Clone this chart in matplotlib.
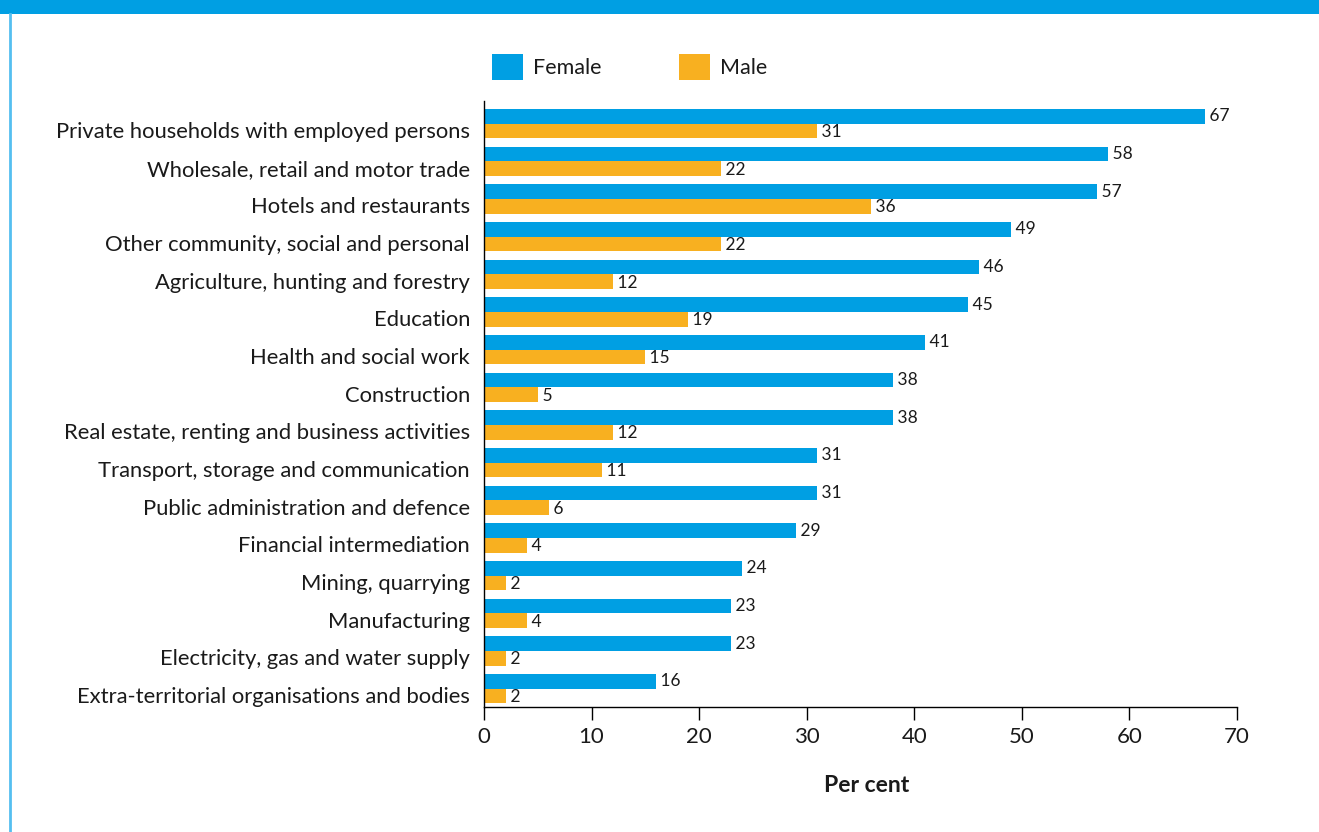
import matplotlib
matplotlib.use("Agg")
import matplotlib.pyplot as plt
from matplotlib.patches import Rectangle
from matplotlib.lines import Line2D
import numpy as np

categories = [
    "Private households with employed persons",
    "Wholesale, retail and motor trade",
    "Hotels and restaurants",
    "Other community, social and personal",
    "Agriculture, hunting and forestry",
    "Education",
    "Health and social work",
    "Construction",
    "Real estate, renting and business activities",
    "Transport, storage and communication",
    "Public administration and defence",
    "Financial intermediation",
    "Mining, quarrying",
    "Manufacturing",
    "Electricity, gas and water supply",
    "Extra-territorial organisations and bodies",
]
female = [67, 58, 57, 49, 46, 45, 41, 38, 38, 31, 31, 29, 24, 23, 23, 16]
male = [31, 22, 36, 22, 12, 19, 15, 5, 12, 11, 6, 4, 2, 4, 2, 2]
x_ticks = [0, 10, 20, 30, 40, 50, 60, 70]

BLUE = "#009fe3"
ORANGE = "#f8b020"
TEXT = "#1a1a1a"
FONT = "Lato"

W, H = 1319, 832
fig = plt.figure(figsize=(W / 100, H / 100), dpi=100)
fig.patch.set_facecolor("white")

# header band and left frame rule
fig.add_artist(Rectangle((0, 1 - 14 / H), 1, 14 / H, transform=fig.transFigure,
                         facecolor=BLUE, edgecolor="none"))
fig.add_artist(Line2D([9.5 / W, 9.5 / W], [0, 1 - 14 / H], transform=fig.transFigure,
                      color="#55bff0", lw=2))

ax = fig.add_axes([484 / W, (H - 707) / H, (1237 - 484) / W, (707 - 101) / H])

y = np.arange(len(categories))
h = 0.39
b_f = ax.barh(y - h / 2, female, height=h, color=BLUE, label="Female")
b_m = ax.barh(y + h / 2, male, height=h, color=ORANGE, label="Male")

for yi, v in zip(y, female):
    ax.text(v, yi - h / 2, f" {v}", va="center", ha="left", fontsize=12.5,
            family=FONT, color=TEXT)
for yi, v in zip(y, male):
    ax.text(v, yi + h / 2 + 0.03, f" {v}", va="center", ha="left", fontsize=12.5,
            family=FONT, color=TEXT)

ax.set_xlim(0, 70)
ax.set_ylim(15.49, -0.60)
ax.set_xticks(x_ticks)
ax.set_xticklabels([str(t) for t in x_ticks], family=FONT, fontsize=16, color=TEXT)
ax.set_yticks(y + 0.17)
ax.set_yticklabels(categories, family=FONT, fontsize=15.8, color=TEXT)
ax.tick_params(axis="y", length=0, pad=10)
ax.tick_params(axis="x", direction="out", length=9.5, width=1, pad=5, color="black")
for s in ["top", "right"]:
    ax.spines[s].set_visible(False)
ax.spines["left"].set_linewidth(1)
ax.spines["bottom"].set_linewidth(1)
ax.set_facecolor("none")

fig.text(867 / W, 1 - 785 / H, "Per cent", ha="center", va="center",
         family=FONT, fontsize=16.5, fontweight="bold", color=TEXT)

leg = fig.legend(handles=[b_f, b_m], labels=["Female", "Male"], ncol=2,
                 loc="center left", bbox_to_anchor=(492 / W, 1 - 67 / H),
                 frameon=False, borderpad=0, borderaxespad=0,
                 handlelength=1.45, handleheight=1.45, handletextpad=0.45,
                 columnspacing=3.6, prop={"family": FONT, "size": 15.5})
for t in leg.get_texts():
    t.set_color(TEXT)

fig.savefig("out.png", dpi=100)
